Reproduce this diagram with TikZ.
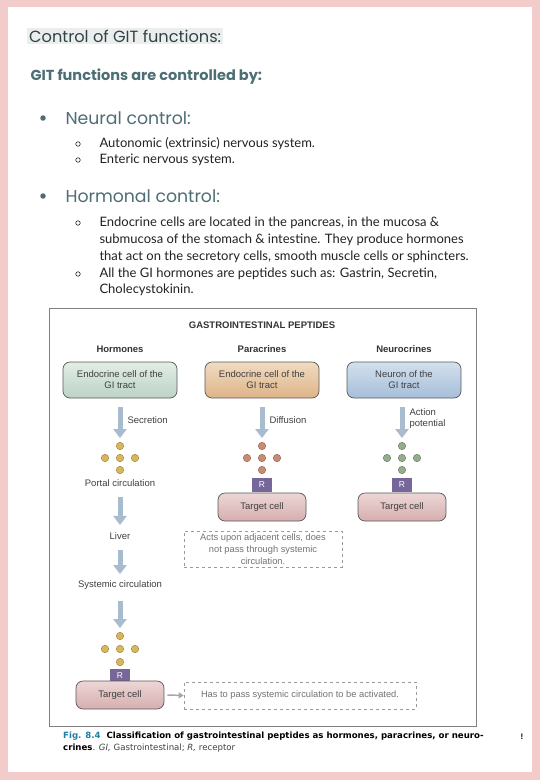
\documentclass[tikz,border=0pt]{standalone}
\usepackage{fontspec}
\setmainfont{Lato}
\newfontfamily\headfont{Poppins}
\newfontfamily\figfont{Liberation Sans}
\newfontfamily\capfont{DejaVu Sans}
\usetikzlibrary{arrows.meta}
\definecolor{pinkbg}{HTML}{F2CBCB}
\definecolor{headdark}{HTML}{2F4448}
\definecolor{headteal}{HTML}{4D6E73}
\definecolor{hlgrey}{HTML}{ECEEEE}
\definecolor{bodytxt}{HTML}{222222}
\definecolor{arrowblue}{HTML}{A9BBCF}
\definecolor{greenA}{HTML}{E2EDE6}\definecolor{greenB}{HTML}{BCD3C5}
\definecolor{tanA}{HTML}{F1DCC2}\definecolor{tanB}{HTML}{DDB388}
\definecolor{blueA}{HTML}{D3E0EE}\definecolor{blueB}{HTML}{A5BED8}
\definecolor{pinkA}{HTML}{EDD6D6}\definecolor{pinkB}{HTML}{D6AEAE}
\definecolor{rpurple}{HTML}{76669A}
\definecolor{dotgold}{HTML}{D9B65C}
\definecolor{dotbrown}{HTML}{C98B72}
\definecolor{dotgreen}{HTML}{93AD8E}
\definecolor{figblue}{HTML}{1D7FA8}
\definecolor{dashgrey}{HTML}{9A9A9A}
\tikzset{
  cellbox/.style={rounded corners=7pt, draw=black!65, line width=0.7pt,
    minimum width=114pt, minimum height=36pt, align=center,
    font=\figfont\fontsize{9.5}{11}\selectfont, text=black!75},
  tbox/.style={cellbox, minimum width=88pt, minimum height=28pt, top color=pinkA, bottom color=pinkB},
  blk/.style={arrowblue, line width=5pt, -{Triangle[width=13pt,length=9pt]}},
  gdot/.style={circle, inner sep=0pt, minimum size=7.5pt, draw=#1!70!black, fill=#1, line width=0.4pt},
  rbox/.style={fill=rpurple, text=white, minimum width=20pt, minimum height=14pt, inner sep=0pt,
    font=\figfont\fontsize{8.5}{9}\selectfont},
  flab/.style={font=\figfont\fontsize{9.5}{11}\selectfont, text=black!75},
  fhead/.style={font=\figfont\bfseries\fontsize{9.5}{11}\selectfont, text=black!80},
  dbox/.style={draw=dashgrey, dashed, line width=0.6pt, align=center, text=black!55,
    font=\figfont\fontsize{9.3}{12}\selectfont, inner sep=2pt},
  bodyline/.style={anchor=west, font=\fontsize{13}{15}\selectfont, text=bodytxt},
  opencirc/.style={circle, draw=bodytxt, line width=0.6pt, inner sep=0pt, minimum size=4.5pt},
  fullcirc/.style={circle, fill=headteal, inner sep=0pt, minimum size=5.5pt},
  subhead/.style={anchor=west, font=\headfont\fontsize{17.3}{20}\selectfont, text=headteal},
}
\begin{document}
\begin{tikzpicture}[x=1pt,y=-1pt]
\fill[pinkbg] (0,0) rectangle (540,780);
\fill[white] (8,7) rectangle (532,772);
\useasboundingbox (0,0) rectangle (540,780);

% headings
\node[anchor=west, fill=hlgrey, inner sep=2pt, font=\headfont\fontsize{16.2}{19}\selectfont, text=headdark] (title) at (27,36) {Control of GIT functions:};
\node[anchor=west, font=\headfont\bfseries\fontsize{14.5}{17}\selectfont, text=headteal] (git) at (27,77) {GIT functions are controlled by:};

\node[fullcirc] (b1) at (43,118) {};
\node[subhead] (neural) at (62,118) {Neural control:};
\node[opencirc] (c1) at (78,144) {};
\node[bodyline] (t1) at (96,144) {Autonomic (extrinsic) nervous system.};
\node[opencirc] (c2) at (78,160) {};
\node[bodyline] (t2) at (96,160) {Enteric nervous system.};

\node[fullcirc] (b2) at (43,196) {};
\node[subhead] (hormonal) at (62,196) {Hormonal control:};
\node[opencirc] (c3) at (78,223) {};
\node[bodyline] (t3) at (96,223) {Endocrine cells are located in the pancreas, in the mucosa \&};
\node[bodyline] (t4) at (96,240) {submucosa of the stomach \& intestine. They produce hormones};
\node[bodyline] (t5) at (96,257) {that act on the secretory cells, smooth muscle cells or sphincters.};
\node[opencirc] (c4) at (78,274) {};
\node[bodyline] (t6) at (96,274) {All the GI hormones are peptides such as: Gastrin, Secretin,};
\node[bodyline] (t7) at (96,290) {Cholecystokinin.};

% figure frame
\draw[black!50, line width=1pt] (49,308) rectangle (476,726);
\node[fhead] (gp) at (262,325) {GASTROINTESTINAL PEPTIDES};
\node[fhead] (hh) at (120,349) {Hormones};
\node[fhead] (ph) at (262,349) {Paracrines};
\node[fhead] (nh) at (404,349) {Neurocrines};

\node[cellbox, top color=greenA, bottom color=greenB] (hbox) at (120,380) {Endocrine cell of the\\GI tract};
\node[cellbox, top color=tanA, bottom color=tanB] (pbox) at (262,380) {Endocrine cell of the\\GI tract};
\node[cellbox, top color=blueA, bottom color=blueB] (nbox) at (404,380) {Neuron of the\\GI tract};

% hormones column
\node[gdot=dotgold] (hd1) at (120,446) {};
\node[gdot=dotgold] (hd2) at (105,458) {};
\node[gdot=dotgold] (hd3) at (120,458) {};
\node[gdot=dotgold] (hd4) at (135,458) {};
\node[gdot=dotgold] (hd5) at (120,470) {};
\draw[blk] ([yshift=-9pt]hbox.south) -- ([yshift=4pt]hd1.north);
\node[flab, anchor=west] (sec) at (124,420) {Secretion};
\node[flab] (portal) at (120,483) {Portal circulation};
\node[flab] (liver) at (120,536) {Liver};
\node[flab] (syst) at (120,585) {Systemic circulation};
\draw[blk] ([yshift=-7pt]portal.south) -- ([yshift=4pt]liver.north);
\draw[blk] ([yshift=-7pt]liver.south) -- ([yshift=3pt]syst.north);
\node[gdot=dotgold] (hs1) at (120,636) {};
\node[gdot=dotgold] (hs2) at (105,649) {};
\node[gdot=dotgold] (hs3) at (120,649) {};
\node[gdot=dotgold] (hs4) at (135,649) {};
\node[gdot=dotgold] (hs5) at (120,662) {};
\draw[blk] ([yshift=-8pt]syst.south) -- ([yshift=4pt]hs1.north);
\node[rbox] (hr) at (120,676) {R};
\node[tbox] (htc) at (120,695) {Target cell};
\node[dbox, minimum width=232pt, minimum height=27pt] (hnote) at (300,695.5) {Has to pass systemic circulation to be activated.};
\draw[black!35, line width=1.5pt, -{Triangle[width=6pt,length=5pt]}] ([xshift=3pt]htc.east) -- (hnote.west);

% paracrines column
\node[gdot=dotbrown] (pd1) at (262,446) {};
\node[gdot=dotbrown] (pd2) at (247,458) {};
\node[gdot=dotbrown] (pd3) at (262,458) {};
\node[gdot=dotbrown] (pd4) at (277,458) {};
\node[gdot=dotbrown] (pd5) at (262,470) {};
\draw[blk] ([yshift=-9pt]pbox.south) -- ([yshift=4pt]pd1.north);
\node[flab, anchor=west] (diff) at (266,420) {Diffusion};
\node[rbox] (pr) at (262,485) {R};
\node[tbox] (ptc) at (262,507) {Target cell};
\node[dbox, minimum width=158pt, minimum height=36pt] (pnote) at (263,549) {Acts upon adjacent cells, does\\not pass through systemic\\circulation.};

% neurocrines column
\node[gdot=dotgreen] (nd1) at (402,446) {};
\node[gdot=dotgreen] (nd2) at (387,458) {};
\node[gdot=dotgreen] (nd3) at (402,458) {};
\node[gdot=dotgreen] (nd4) at (417,458) {};
\node[gdot=dotgreen] (nd5) at (402,470) {};
\draw[blk] (nd1.north|-nbox.south) ++(0,9) -- ([yshift=4pt]nd1.north);
\node[flab, anchor=west, align=left] (ap) at (406,419) {Action\\potential};
\node[rbox] (nr) at (402,485) {R};
\node[tbox] (ntc) at (402,507) {Target cell};

% caption
\node[anchor=west, font=\capfont\fontsize{8.6}{11}\selectfont, inner sep=0pt] (cap1) at (63,736)
  {\textcolor{figblue}{\textbf{Fig. 8.4}}\hspace{6pt}\textbf{Classification of gastrointestinal peptides as hormones, paracrines, or neuro-}};
\node[anchor=west, font=\capfont\fontsize{8.6}{11}\selectfont, inner sep=0pt, text=black!75] (cap2) at (63,748)
  {\textcolor{black}{\textbf{crines}}. \textit{GI,} Gastrointestinal; \textit{R,} receptor};
\node[font=\figfont\bfseries\fontsize{8}{10}\selectfont] (excl) at (522,737) {!};
\end{tikzpicture}
\end{document}
